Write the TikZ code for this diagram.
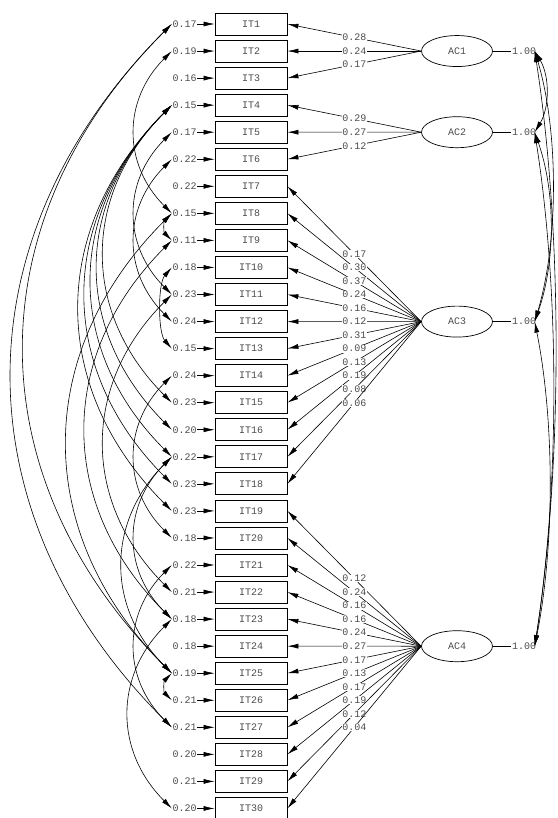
\documentclass[tikz,border=0pt]{standalone}
\usepackage{fontspec}
\setmonofont{Liberation Mono}
\usetikzlibrary{arrows.meta,shapes.geometric}
\begin{document}
\begin{tikzpicture}[x=1pt,y=-1pt,
  lbl/.style={font=\ttfamily\fontsize{10}{12}\selectfont, text=black!70, inner sep=0.5pt},
  itbox/.style={draw, line width=0.8pt, minimum width=72pt, minimum height=22pt, inner sep=0pt, font=\ttfamily\fontsize{10}{12}\selectfont, text=black!70},
  fac/.style={draw, ellipse, line width=0.7pt, minimum width=71pt, minimum height=31pt, inner sep=0pt, font=\ttfamily\fontsize{10}{12}\selectfont, text=black!70},
  tip/.tip={Latex[length=11pt,width=5pt]},
  arr/.style={-tip, line width=0.6pt},
  cov/.style={tip-tip, line width=0.6pt},
  ld/.style={fill=white, lbl},
]
\useasboundingbox (0,0) rectangle (557,818);
\foreach \i/\v in {1/0.17,2/0.19,3/0.16,4/0.15,5/0.17,6/0.22,7/0.22,8/0.15,9/0.11,10/0.18,
  11/0.23,12/0.24,13/0.15,14/0.24,15/0.23,16/0.20,17/0.22,18/0.23,19/0.23,20/0.18,
  21/0.22,22/0.21,23/0.18,24/0.18,25/0.19,26/0.21,27/0.21,28/0.20,29/0.21,30/0.20} {
  \pgfmathsetmacro\yy{24+(\i-1)*27.05}
  \node[itbox] (b\i) at (251,\yy) {IT\i};
  \node[lbl] (e\i) at (184.5,\yy) {\v};
  \draw[arr] (e\i.east) -- (b\i.west);
}
\node[fac] (f1) at (457,51.05) {AC1};
\node[fac] (f2) at (457,132.2) {AC2};
\node[fac] (f3) at (457,321.6) {AC3};
\node[fac] (f4) at (457,646.2) {AC4};
\foreach \k in {1,2,3,4} {
  \node[lbl] (v\k) at (524,0 |- f\k) {1.00};
  \draw[line width=0.6pt] (f\k.east) -- (v\k.west);
}
\foreach \i/\v in {1/0.28,2/0.24,3/0.17} \draw[arr] (f1.west) -- node[ld]{\v} (b\i.east);
\foreach \i/\v in {4/0.29,5/0.27,6/0.12} \draw[arr] (f2.west) -- node[ld]{\v} (b\i.east);
\foreach \i/\v in {7/0.17,8/0.30,9/0.37,10/0.24,11/0.16,12/0.12,13/0.31,14/0.09,15/0.13,16/0.19,17/0.08,18/0.06}
  \draw[arr] (f3.west) -- node[ld]{\v} (b\i.east);
\foreach \i/\v in {19/0.12,20/0.24,21/0.16,22/0.16,23/0.24,24/0.27,25/0.17,26/0.13,27/0.17,28/0.19,29/0.12,30/0.04}
  \draw[arr] (f4.west) -- node[ld]{\v} (b\i.east);
% factor covariances
\draw[cov] ([xshift=-2pt]v1.east) .. controls +(15,25) and +(15,-25) .. ([xshift=-2pt]v2.east);
\draw[cov] ([xshift=-2pt]v1.east) .. controls +(24,80) and +(24,-80) .. ([xshift=-2pt]v3.east);
\draw[cov] ([xshift=-2pt]v2.east) .. controls +(21,60) and +(21,-60) .. ([xshift=-2pt]v3.east);
\draw[cov] ([xshift=-2pt]v1.east) .. controls +(28,180) and +(28,-180) .. ([xshift=-2pt]v4.east);
\draw[cov] ([xshift=-2pt]v2.east) .. controls +(25,160) and +(25,-160) .. ([xshift=-2pt]v4.east);
\draw[cov] ([xshift=-2pt]v3.east) .. controls +(20,100) and +(20,-100) .. ([xshift=-2pt]v4.east);
% error covariances
\foreach \a/\b in {1/27,1/25,2/8,4/15,4/16,4/17,4/18,4/19,5/11,6/12,8/9,8/25,9/23,
  11/22,14/20,17/23,17/25,21/27,23/30,25/26} {
  \pgfmathsetmacro\d{8.2*(\b-\a)}
  \draw[cov] (e\a.west) .. controls +(-\d,\d) and +(-\d,-\d) .. (e\b.west);
}
\draw[cov] (e10.west) .. controls +(-14,16) and +(-14,-16) .. (e13.west);
\end{tikzpicture}
\end{document}
